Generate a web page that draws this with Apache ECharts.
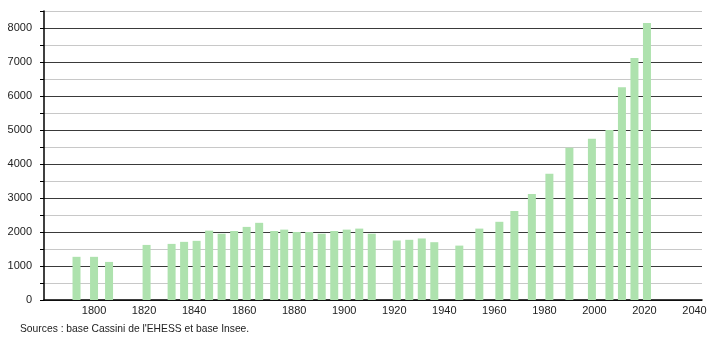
<!DOCTYPE html>
<html>
<head>
<meta charset="utf-8">
<script src="https://cdn.jsdelivr.net/npm/echarts@6/dist/echarts.min.js"></script>
<style>
html,body{margin:0;padding:0;background:#fff;}
#chart{width:710px;height:340px;}
</style>
</head>
<body>
<div id="chart"></div>
<script>
const years = [1793,1800,1806,1821,1831,1836,1841,1846,1851,1856,1861,1866,1872,1876,1881,1886,1891,1896,1901,1906,1911,1921,1926,1931,1936,1946,1954,1962,1968,1975,1982,1990,1999,2006,2011,2016,2021];
const population = [1270,1270,1120,1620,1650,1710,1740,2040,1950,2030,2150,2270,2030,2070,2000,2000,1950,2030,2070,2100,1950,1750,1770,1810,1700,1600,2100,2300,2620,3120,3710,4480,4740,5000,6260,7120,8150];
const sourceText = "Sources : base Cassini de l'EHESS et base Insee.";

const chart = echarts.init(document.getElementById('chart'), null, {renderer: 'canvas'});
const data = years.map((y, i) => [y, population[i]]);

chart.setOption({
  animation: false,
  backgroundColor: '#ffffff',
  grid: {left: 44, right: 8, top: 11, bottom: 40, containLabel: false},
  xAxis: {
    type: 'value',
    min: 1780,
    max: 2043,
    interval: 20,
    axisLine: {show: true, onZero: false, lineStyle: {color: '#000', width: 1.5}},
    axisTick: {show: false},
    splitLine: {show: false},
    axisLabel: {
      showMinLabel: false, showMaxLabel: false,
      margin: 5, color: '#222', fontSize: 11, fontFamily: 'Liberation Sans, Arial, sans-serif',
      formatter: v => (v % 20 === 0 && v > 1780) ? String(v) : ''
    }
  },
  yAxis: {
    type: 'value',
    min: 0,
    max: 8500,
    interval: 500,
    axisLine: {show: true, lineStyle: {color: '#000', width: 1.5}},
    axisTick: {show: true, length: 4, lineStyle: {color: '#000'}},
    splitLine: {show: true, lineStyle: {color: ['#3a3a3a', '#c8c8c8'], width: 1}},
    axisLabel: {
      margin: 12, color: '#222', fontSize: 11, fontFamily: 'Liberation Sans, Arial, sans-serif',
      formatter: v => (v % 1000 === 0) ? String(v) : ''
    }
  },
  series: [{
    type: 'bar',
    data: data,
    barWidth: 8,
    itemStyle: {color: '#aee2ae'}
  }],
  graphic: [{
    type: 'text',
    left: 20,
    top: 324,
    style: {text: sourceText, fill: '#222', fontSize: 10.3, fontFamily: 'Liberation Sans, Arial, sans-serif'}
  }]
});
</script>
</body>
</html>
